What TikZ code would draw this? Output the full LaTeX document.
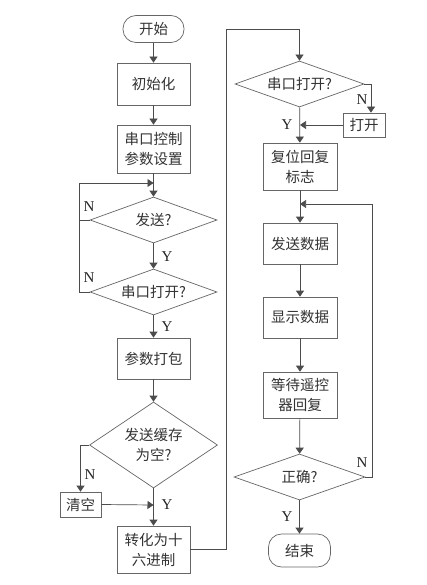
\documentclass[tikz,border=0pt]{standalone}
\usepackage{fontspec}
\setmainfont{Liberation Serif}
\newfontfamily\cjk{Noto Sans CJK SC}
\usetikzlibrary{arrows.meta,shapes.geometric,calc}
\begin{document}
\begin{tikzpicture}[x=1pt,y=-1pt,
  ln/.style={draw=black!70,line width=0.7pt},
  arr/.style={ln,-{Triangle[length=6pt,width=8pt]}},
  box/.style={draw=black!60,line width=0.7pt,rectangle,inner sep=0pt,align=center,
     font=\cjk\fontsize{14.5}{20}\selectfont,text=black!80},
  term/.style={box,rounded corners=13pt},
  dec/.style={draw=black!60,line width=0.7pt,diamond,inner sep=0pt,align=center,
     font=\cjk\fontsize{14.5}{20}\selectfont,text=black!80},
  yn/.style={font=\fontsize{15}{15}\selectfont,inner sep=0pt,text=black!85}]
\useasboundingbox (0,0) rectangle (427,585);
\fill[white] (0,0) rectangle (427,585);
% left column
\node[term,minimum width=61pt,minimum height=27pt] (start) at (153.5,29) {开始};
\node[box,minimum width=73pt,minimum height=42pt] (init) at (153.5,84) {初始化};
\node[box,minimum width=73pt,minimum height=48pt] (setp) at (153.5,149) {串口控制\\参数设置};
\node[dec,shape aspect=2.76,minimum width=127pt,minimum height=46pt] (d1) at (153.5,220) {发送?};
\node[dec,shape aspect=2.76,minimum width=127pt,minimum height=46pt] (d2) at (153.5,292) {串口打开?};
\node[box,minimum width=73pt,minimum height=41pt] (pack) at (153.5,358.5) {参数打包};
\node[dec,shape aspect=1.49,minimum width=128pt,minimum height=86pt] (d3) at (153.5,445) {发送缓存\\为空?};
\node[box,minimum width=41pt,minimum height=25pt] (clear) at (80.5,504.5) {清空};
\node[box,minimum width=73pt,minimum height=47pt] (hex) at (153.5,549.5) {转化为十\\六进制};
% right column
\node[dec,shape aspect=2.8,minimum width=129pt,minimum height=46pt] (d4) at (299.5,84) {串口打开?};
\node[box,minimum width=42pt,minimum height=24pt] (open) at (364,125) {打开};
\node[box,minimum width=74pt,minimum height=47pt] (reset) at (300,166.5) {复位回复\\标志};
\node[box,minimum width=74pt,minimum height=41pt] (send) at (300,243.5) {发送数据};
\node[box,minimum width=74pt,minimum height=41pt] (show) at (300,317.5) {显示数据};
\node[box,minimum width=74pt,minimum height=46pt] (wait) at (300,395) {等待遥控\\器回复};
\node[dec,shape aspect=2.85,minimum width=131pt,minimum height=46pt] (d5) at (299.5,477) {正确?};
\node[term,minimum width=62pt,minimum height=33pt] (end) at (299.5,550.5) {结束};
% merge coordinates
\coordinate (m1) at (153.5,183);
\coordinate (m2) at (153.5,505);
\coordinate (m3) at (300,125);
\coordinate (m4) at (300,204);
% connectors left
\draw[arr] (start) -- (init);
\draw[arr] (init) -- (setp);
\draw[arr] (setp) -- (d1);
\draw[ln] (d1.west) -- ++(-10,0);
\draw[arr] (d2.west) -- ++(-10,0) |- (m1);
\draw[arr] (d1) -- (d2);
\draw[arr] (d2) -- (pack);
\draw[arr] (pack) -- (d3);
\draw[arr] (d3.west) -| (clear.north);
\draw[arr] (clear.east) -- (m2);
\draw[arr] (d3) -- (hex);
\draw[arr] (hex.east) -- (226,549.5) |- (299.5,29) -- (d4.north);
% connectors right
\draw[arr] (d4.east) -| (open.north -| 371,0);
\draw[arr] (open.west) -- (m3);
\draw[arr] (d4) -- (reset);
\draw[arr] (reset) -- (send);
\draw[arr] (d5.east) -- (372,477) |- (m4);
\draw[arr] (send) -- (show);
\draw[arr] (show) -- (wait);
\draw[arr] (wait) -- (d5);
\draw[arr] (d5) -- (end);
% labels
\node[yn] (n1) at (89,207) {N};
\node[yn] (n2) at (89,278) {N};
\node[yn] (y1) at (167,257) {Y};
\node[yn] (y2) at (167,327) {Y};
\node[yn] (n3) at (90,475) {N};
\node[yn] (y3) at (167,505) {Y};
\node[yn] (n4) at (362,100) {N};
\node[yn] (y4) at (287,125) {Y};
\node[yn] (n5) at (362,463) {N};
\node[yn] (y5) at (287,517) {Y};
\end{tikzpicture}
\end{document}
